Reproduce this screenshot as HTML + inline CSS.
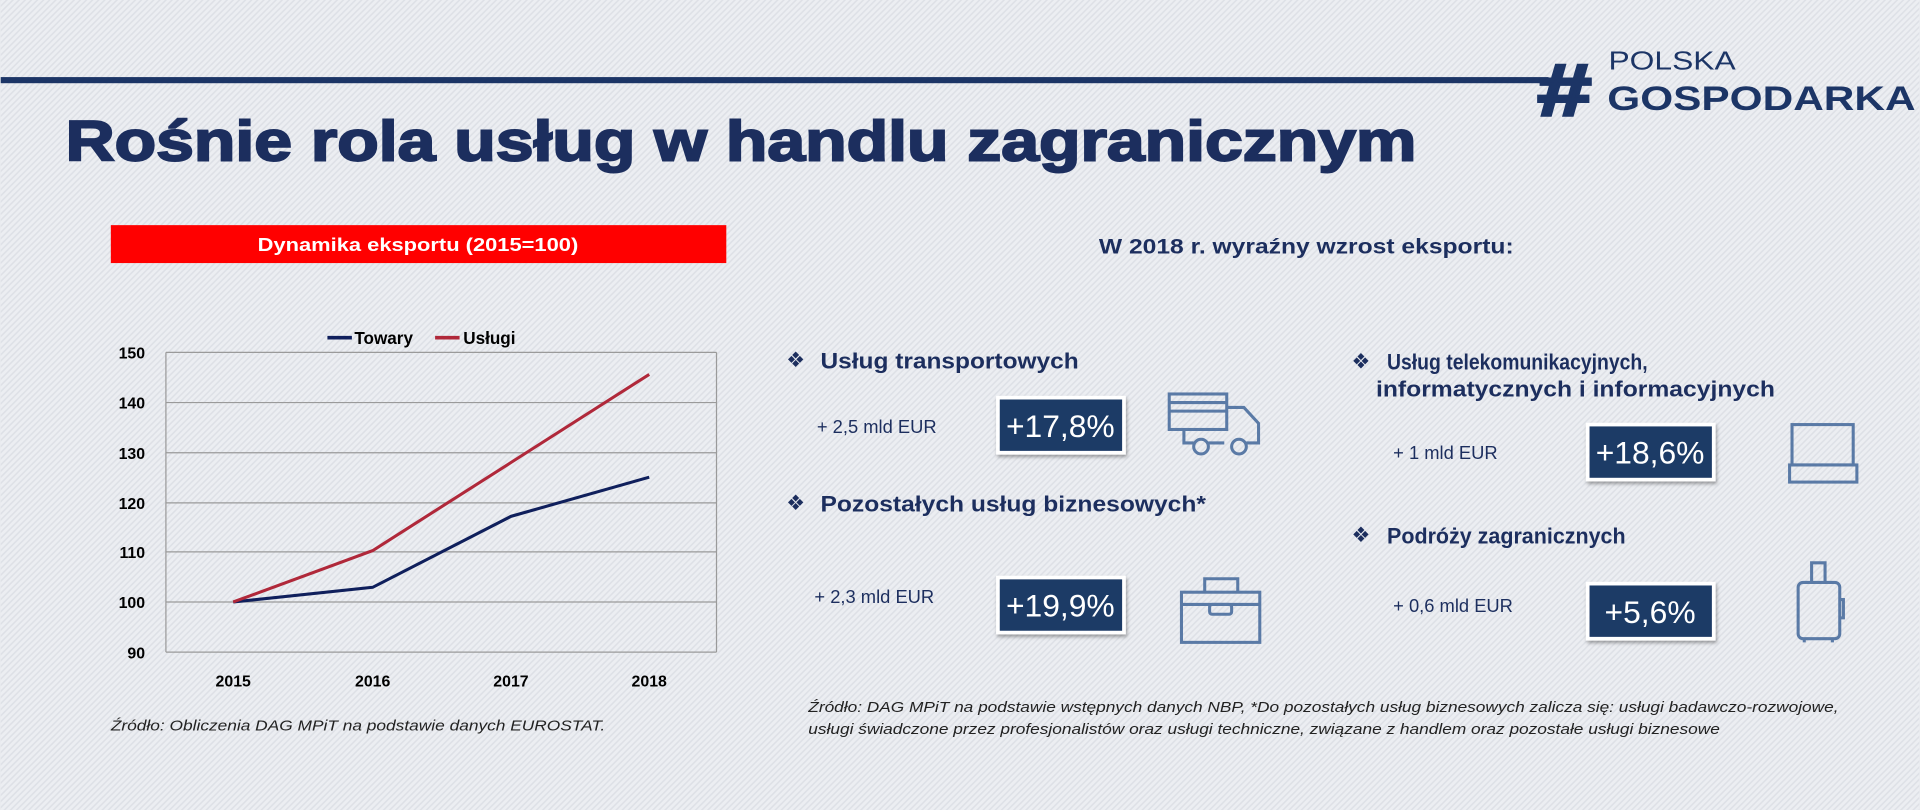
<!DOCTYPE html>
<html><head><meta charset="utf-8"><style>html,body{margin:0;padding:0;background:#e9ebef}svg{display:block}</style></head>
<body>
<svg width="1920" height="810" viewBox="0 0 1568 662" xmlns="http://www.w3.org/2000/svg" font-family="Liberation Sans, Arial, sans-serif">
<defs>
<pattern id="st" width="5" height="5" patternUnits="userSpaceOnUse">
<rect width="5" height="5" fill="#eceef2"/>
<path d="M-1 6 L6 -1 M-1 1 L1 -1 M4 6 L6 4" stroke="#dde0e6" stroke-width="1.2"/>
</pattern>
<filter id="sh" x="-20%" y="-20%" width="140%" height="150%"><feDropShadow dx="1" dy="2" stdDeviation="1.5" flood-opacity="0.35"/></filter>
</defs>
<rect width="1568" height="662" fill="url(#st)"/>
<rect x="0" y="63" width="1265" height="5" fill="#1c3566"/>
<text x="1256" y="94" font-size="60" font-weight="bold" fill="#1c3566" stroke="#1c3566" stroke-width="2.5" textLength="44" lengthAdjust="spacingAndGlyphs">#</text>
<text x="1314" y="57" font-size="21" fill="#1c3566" textLength="104" lengthAdjust="spacingAndGlyphs">POLSKA</text>
<text x="1313" y="90" font-size="28" font-weight="bold" fill="#1c3566" textLength="252" lengthAdjust="spacingAndGlyphs">GOSPODARKA</text>
<text x="53" y="131" font-size="46" font-weight="bold" fill="#1c2e5e" stroke="#1c2e5e" stroke-width="1.6" textLength="1104" lengthAdjust="spacingAndGlyphs">Rośnie rola usług w handlu zagranicznym</text>
<rect x="90" y="184" width="503" height="31" fill="#ff0000"/>
<text x="341" y="205" font-size="15" font-weight="bold" fill="#fff" text-anchor="middle" textLength="262" lengthAdjust="spacingAndGlyphs">Dynamika eksportu (2015=100)</text>
<g stroke="#9a9a9a" stroke-width="1">
<line x1="135" y1="288" x2="585" y2="288"/><line x1="135" y1="329" x2="585" y2="329"/><line x1="135" y1="370" x2="585" y2="370"/><line x1="135" y1="411" x2="585" y2="411"/><line x1="135" y1="451" x2="585" y2="451"/><line x1="135" y1="492" x2="585" y2="492"/><line x1="135" y1="533" x2="585" y2="533"/>
<line x1="135" y1="288" x2="135" y2="533"/><line x1="585" y1="288" x2="585" y2="533"/>
</g>
<g font-size="13" font-weight="bold" fill="#000" text-anchor="end">
<text x="118" y="293">150</text><text x="118" y="334">140</text><text x="118" y="375">130</text><text x="118" y="416">120</text><text x="118" y="456">110</text><text x="118" y="497">100</text><text x="118" y="538">90</text>
</g>
<g font-size="13" font-weight="bold" fill="#000" text-anchor="middle">
<text x="190" y="561">2015</text><text x="304" y="561">2016</text><text x="417" y="561">2017</text><text x="530" y="561">2018</text>
</g>
<polyline points="190,492 304,480 417,422 530,390" fill="none" stroke="#0f1f5c" stroke-width="2.5"/>
<polyline points="190,492 304,450 417,378 530,306" fill="none" stroke="#b0283a" stroke-width="2.5"/>
<line x1="267" y1="276" x2="287" y2="276" stroke="#0f1f5c" stroke-width="3"/>
<text x="289" y="281" font-size="14" font-weight="bold">Towary</text>
<line x1="355" y1="276" x2="375" y2="276" stroke="#b0283a" stroke-width="3"/>
<text x="378" y="281" font-size="14" font-weight="bold">Usługi</text>
<text x="90" y="597" font-size="12" font-style="italic" fill="#222" textLength="404" lengthAdjust="spacingAndGlyphs">Źródło: Obliczenia DAG MPiT na podstawie danych EUROSTAT.</text>
<text x="1067" y="207" font-size="17" font-weight="bold" fill="#1c2e5e" text-anchor="middle" textLength="339" lengthAdjust="spacingAndGlyphs">W 2018 r. wyraźny wzrost eksportu:</text>
<g font-size="17" fill="#1c2e5e"><text x="642" y="300">❖</text><text x="642" y="417">❖</text><text x="1104" y="301">❖</text><text x="1104" y="443">❖</text></g>
<g font-size="18" font-weight="bold" fill="#1c2e5e">
<text x="670" y="301" textLength="211" lengthAdjust="spacingAndGlyphs">Usług transportowych</text>
<text x="670" y="418" textLength="315" lengthAdjust="spacingAndGlyphs">Pozostałych usług biznesowych*</text>
<text x="1133" y="302" textLength="213" lengthAdjust="spacingAndGlyphs">Usług telekomunikacyjnych,</text>
<text x="1124" y="324" textLength="326" lengthAdjust="spacingAndGlyphs">informatycznych i informacyjnych</text>
<text x="1133" y="444" textLength="195" lengthAdjust="spacingAndGlyphs">Podróży zagranicznych</text>
</g>
<g font-size="15" fill="#1c2e5e">
<text x="667" y="354">+ 2,5 mld EUR</text>
<text x="665" y="493">+ 2,3 mld EUR</text>
<text x="1138" y="375">+ 1 mld EUR</text>
<text x="1138" y="500">+ 0,6 mld EUR</text>
</g>
<g filter="url(#sh)" fill="#1f3a66" stroke="#fff" stroke-width="3">
<rect x="815" y="325" width="103" height="45"/>
<rect x="815" y="472" width="103" height="45"/>
<rect x="1297" y="347" width="103" height="45"/>
<rect x="1297" y="477" width="103" height="45"/>
</g>
<g font-size="26" fill="#fff" text-anchor="middle">
<text x="866" y="357">+17,8%</text>
<text x="866" y="504">+19,9%</text>
<text x="1348" y="379">+18,6%</text>
<text x="1348" y="509">+5,6%</text>
</g>
<g fill="none" stroke="#5a7aa6" stroke-width="2.5">
<rect x="955" y="322" width="47" height="29"/><line x1="955" y1="329" x2="1002" y2="329"/><line x1="955" y1="336" x2="1002" y2="336"/>
<path d="M1002 333 H1016 L1028 346 V362 H1018 M1000 362 H987 M967 351 V362 H975"/>
<circle cx="981" cy="365" r="6"/><circle cx="1012" cy="365" r="6"/>
<rect x="965" y="484" width="64" height="41"/><line x1="965" y1="494" x2="1029" y2="494"/>
<path d="M984 484 V473 H1011 V484"/><rect x="988" y="494" width="18" height="8" rx="2"/>
<rect x="1464" y="347" width="50" height="33"/><rect x="1462" y="380" width="55" height="14"/>
<rect x="1469" y="476" width="34" height="46" rx="4"/><path d="M1480 476 V460 H1491 V476"/><path d="M1503 490 H1506 V505 H1503"/><path d="M1474 522 V525 M1497 522 V525"/>
</g>
<text x="660" y="582" font-size="12" font-style="italic" fill="#222" textLength="842" lengthAdjust="spacingAndGlyphs">Źródło: DAG MPiT na podstawie wstępnych danych NBP, *Do pozostałych usług biznesowych zalicza się: usługi badawczo-rozwojowe,</text>
<text x="660" y="600" font-size="12" font-style="italic" fill="#222" textLength="745" lengthAdjust="spacingAndGlyphs">usługi świadczone przez profesjonalistów oraz usługi techniczne, związane z handlem oraz pozostałe usługi biznesowe</text>
</svg>
</body></html>
